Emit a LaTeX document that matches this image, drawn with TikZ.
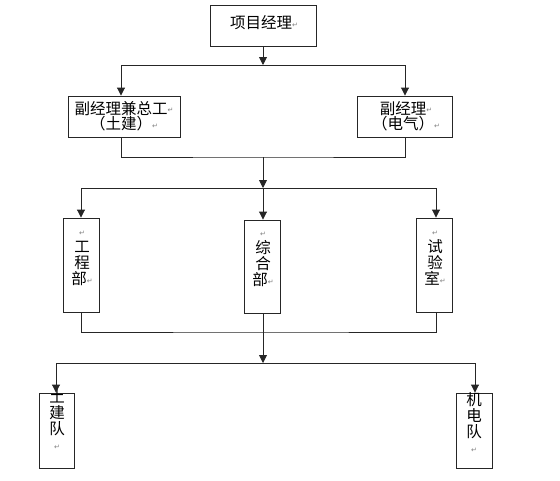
\documentclass[tikz,border=0pt]{standalone}
\usepackage{fontspec}
\setmainfont{Noto Sans CJK SC}
\newfontfamily\dejavu{DejaVu Sans}
\usetikzlibrary{arrows.meta}
\newcommand{\pmk}{{\dejavu\fontsize{7}{7}\selectfont\color{gray}\raisebox{0.3ex}{↵}}}
\tikzset{
  box/.style={draw=black!85, line width=0.9pt, rectangle, inner sep=0pt, fill=white},
  txt/.style={font=\fontsize{15.5}{15.5}\selectfont, align=center, inner sep=0pt},
  vtxt/.style={font=\fontsize{15.5}{16}\selectfont, align=center, inner sep=0pt},
  ln/.style={draw=black!85, line width=0.9pt},
  arr/.style={ln, -{Triangle[width=8pt,length=8pt]}}
}
\begin{document}
\begin{tikzpicture}[x=1pt,y=-1pt]
\useasboundingbox (0,0) rectangle (560,480);
% boxes
\node[box, minimum width=106pt, minimum height=41pt] (pm) at (263,25.5) {};
\node[txt] (pmt) at (264,23) {项目经理\pmk};
\node[box, minimum width=112pt, minimum height=41pt] (d1) at (124.5,116.5) {};
\node[txt] (d1t) at (124,116) {副经理兼总工\pmk\\（土建）\pmk};
\node[box, minimum width=95pt, minimum height=41pt] (d2) at (404.5,116.5) {};
\node[txt] (d2t) at (406,116) {副经理\pmk\\（电气）\pmk};

\node[box, minimum width=36pt, minimum height=94pt] (g1) at (81,265) {};
\node[vtxt] (g1t) at (82,258) {\pmk\\工\\程\\部\pmk};
\node[box, minimum width=36pt, minimum height=93pt] (g2) at (262,266.5) {};
\node[vtxt] (g2t) at (263,259) {\pmk\\综\\合\\部\pmk};
\node[box, minimum width=36pt, minimum height=94pt] (g3) at (434,265) {};
\node[vtxt] (g3t) at (435,258) {\pmk\\试\\验\\室\pmk};

\node[box, minimum width=35pt, minimum height=75pt] (t1) at (56.5,430.5) {};
\node[vtxt] (t1t) at (57,420) {土\\建\\队\\\pmk};
\node[box, minimum width=36pt, minimum height=75pt] (t2) at (474,430.5) {};
\node[vtxt] (t2t) at (474,423) {机\\电\\队\\\pmk};

% junction coordinates
\coordinate (a0) at (263,65);
\coordinate (aL) at (121,65);
\coordinate (aR) at (405,65);
\coordinate (b0) at (263,157);
\coordinate (c0) at (263,188);
\coordinate (cL) at (81,188);
\coordinate (cR) at (436,188);
\coordinate (e0) at (263,332);
\coordinate (f0) at (263,363);
\coordinate (fL) at (56,363);
\coordinate (fR) at (475,363);

% level 1 -> 2
\draw[arr] (pm.south) -- (a0);
\draw[ln] (aL) -- (aR);
\draw[arr] (aL) -- (aL |- d1.north);
\draw[arr] (aR) -- (aR |- d2.north);
% level 2 -> 3
\draw[ln] (aL |- d1.south) |- (b0) -| (aR |- d2.south);
\draw[arr] (b0) -- (c0);
\draw[ln] (cL) -- (cR);
\draw[arr] (cL) -- (cL |- g1.north);
\draw[arr] (c0) -- (c0 |- g2.north);
\draw[arr] (cR) -- (cR |- g3.north);
% level 3 -> 4
\draw[ln] (cL |- g1.south) |- (e0) -| (cR |- g3.south);
\draw[ln] (c0 |- g2.south) -- (e0);
\draw[arr] (e0) -- (f0);
\draw[ln] (fL) -- (fR);
\draw[arr] (fL) -- (fL |- t1.north);
\draw[arr] (fR) -- (fR |- t2.north);
\end{tikzpicture}
\end{document}
